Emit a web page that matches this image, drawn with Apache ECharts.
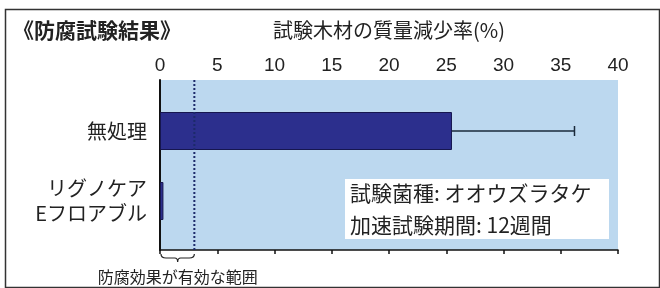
<!DOCTYPE html>
<html>
<head>
<meta charset="utf-8">
<script src="https://cdn.jsdelivr.net/npm/echarts@6/dist/echarts.min.js"></script>
<style>
  html, body { margin: 0; padding: 0; background: #fff; }
  #main { width: 660px; height: 288px; }
</style>
</head>
<body>
<div id="main"></div>
<script>
// データ
const categories = ['無処理', 'リグノケア\nEフロアブル'];
const lossValues = [25.5, 0.3];
const lossErrors = [10.7, 0];
const effectiveLimit = 3;
const xTicks = [0, 5, 10, 15, 20, 25, 30, 35, 40];

const FONT = '"Noto Sans CJK JP", "Noto Sans", sans-serif';
const INK = '#222';

const chart = echarts.init(document.getElementById('main'));

chart.setOption({
  backgroundColor: '#ffffff',
  animation: false,
  textStyle: { fontFamily: FONT },
  title: {
    text: '《防腐試験結果》',
    left: 8,
    top: 15,
    textStyle: { fontSize: 21, fontWeight: 'bold', color: INK, fontFamily: FONT }
  },
  grid: [
    // 背景と目盛
    { left: 160, top: 80, width: 458, height: 170, show: true, backgroundColor: '#bcd8ef', borderWidth: 0 },
    // 棒グラフ用
    { left: 160, top: 96, width: 458, height: 140 }
  ],
  xAxis: [
    {
      gridIndex: 0, type: 'value', position: 'top',
      min: xTicks[0], max: xTicks[xTicks.length - 1], interval: 5,
      name: '試験木材の質量減少率(%)', nameLocation: 'middle', nameGap: 40,
      nameTextStyle: { fontSize: 20, color: INK, fontFamily: FONT },
      axisLine: { show: true, lineStyle: { color: '#111', width: 1.5 } },
      axisTick: { show: true, inside: true, length: 4, lineStyle: { color: '#111', width: 1.5 } },
      axisLabel: { fontSize: 19, color: INK, margin: 5, fontFamily: 'Liberation Sans, Arial, sans-serif' },
      splitLine: { show: false }
    },
    { gridIndex: 1, type: 'value', min: 0, max: 40, show: false }
  ],
  yAxis: [
    {
      gridIndex: 0, type: 'value', min: 0, max: 1,
      axisLine: { show: true, lineStyle: { color: '#111', width: 2 } },
      axisTick: { show: false }, axisLabel: { show: false }, splitLine: { show: false }
    },
    {
      gridIndex: 1, type: 'category', inverse: true, data: categories,
      axisLine: { show: false }, axisTick: { show: false },
      axisLabel: { fontSize: 20, color: INK, margin: 13, lineHeight: 25, align: 'right', fontFamily: FONT }
    }
  ],
  series: [
    {
      type: 'bar', xAxisIndex: 1, yAxisIndex: 1,
      data: lossValues, barWidth: 38,
      itemStyle: { color: '#2c2f8d', borderColor: '#16164f', borderWidth: 1 },
      z: 3
    },
    {
      // エラーバー
      type: 'custom', xAxisIndex: 1, yAxisIndex: 1,
      data: lossValues.map((v, i) => [v, i, lossErrors[i]]),
      renderItem: (params, api) => {
        const err = api.value(2);
        if (!err) return;
        const start = api.coord([api.value(0), api.value(1)]);
        const end = api.coord([api.value(0) + err, api.value(1)]);
        const style = { stroke: '#1a2a3a', lineWidth: 1.5 };
        return {
          type: 'group',
          children: [
            { type: 'line', shape: { x1: start[0], y1: start[1], x2: end[0], y2: end[1] }, style },
            { type: 'line', shape: { x1: end[0], y1: end[1] - 5, x2: end[0], y2: end[1] + 5 }, style }
          ]
        };
      },
      z: 4
    },
    {
      // 有効範囲の点線と括弧
      type: 'custom', xAxisIndex: 0, yAxisIndex: 0,
      data: [[0, effectiveLimit]],
      renderItem: (params, api) => {
        const top = api.coord([api.value(1), 1]);
        const bottom = api.coord([api.value(1), 0]);
        const left = api.coord([api.value(0), 0]);
        const x0 = left[0] + 1, x1 = bottom[0], y = bottom[1] + 4, mid = (x0 + x1) / 2;
        return {
          type: 'group',
          children: [
            {
              type: 'line',
              shape: { x1: top[0], y1: top[1], x2: bottom[0], y2: bottom[1] },
              style: { stroke: '#1c2a6a', lineWidth: 2, lineDash: [2, 2] }
            },
            {
              type: 'path',
              shape: {
                pathData: `M${x0},${y} Q${x0},${y + 4} ${x0 + 5},${y + 4} L${mid - 3},${y + 4} Q${mid},${y + 4} ${mid},${y + 8} ` +
                  `Q${mid},${y + 4} ${mid + 3},${y + 4} L${x1 - 5},${y + 4} Q${x1},${y + 4} ${x1},${y}`
              },
              style: { stroke: '#222', lineWidth: 1.2, fill: null }
            },
            {
              type: 'text',
              style: {
                text: '防腐効果が有効な範囲', x: mid, y: 277,
                align: 'center', verticalAlign: 'middle',
                fontSize: 16, fill: INK, fontFamily: FONT
              }
            }
          ]
        };
      },
      z: 5
    }
  ],
  graphic: [
    {
      type: 'rect', left: 3, top: 7, z: 0,
      shape: { width: 654, height: 278 },
      style: { fill: null, stroke: '#333', lineWidth: 1.5 }
    },
    {
      type: 'group', left: 345, top: 179, z: 10,
      children: [
        { type: 'rect', shape: { width: 264, height: 60 }, style: { fill: '#ffffff' } },
        { type: 'text', x: 5, y: 14, style: { text: '試験菌種: オオウズラタケ', fontSize: 21, fill: INK, fontFamily: FONT, verticalAlign: 'middle' } },
        { type: 'text', x: 5, y: 46, style: { text: '加速試験期間: 12週間', fontSize: 21, fill: INK, fontFamily: FONT, verticalAlign: 'middle' } }
      ]
    }
  ]
});
</script>
</body>
</html>
